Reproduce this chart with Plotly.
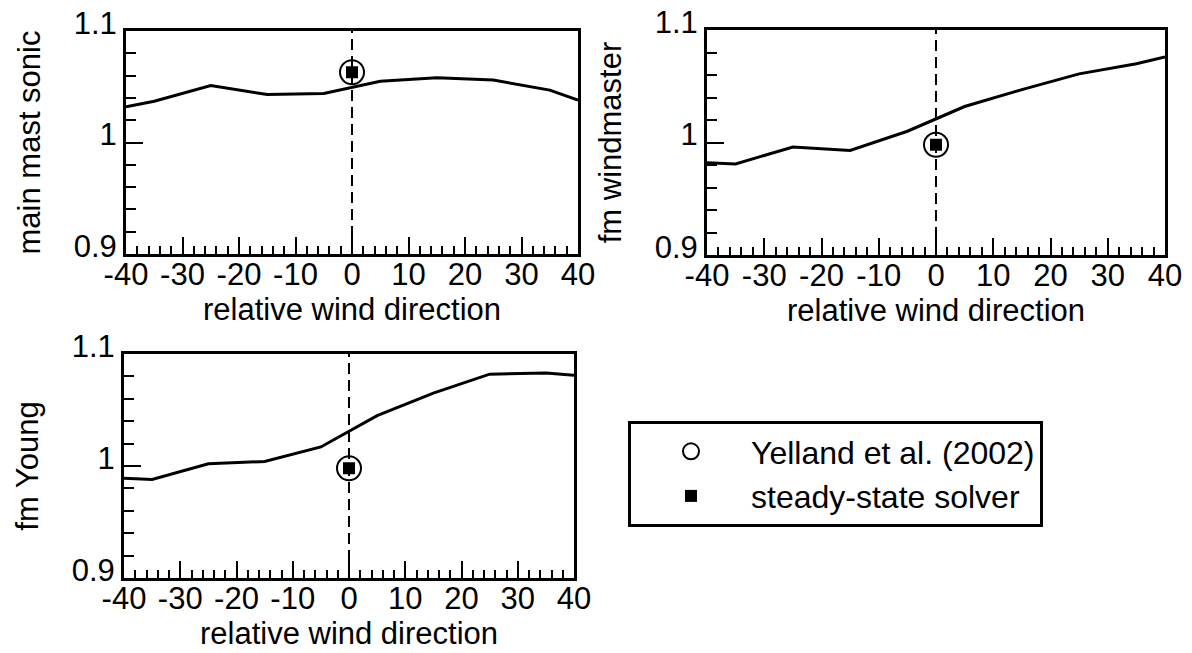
import plotly.graph_objects as go

# ---- data ----
wind_dir = [-40, -35, -25, -15, -5, 5, 15, 25, 35, 40]
main_mast_sonic = [1.032, 1.037, 1.051, 1.043, 1.044, 1.055, 1.058, 1.056, 1.047, 1.038]
fm_windmaster = [0.982, 0.981, 0.996, 0.993, 1.010, 1.032, 1.047, 1.061, 1.070, 1.076]
fm_young = [0.989, 0.988, 1.002, 1.004, 1.017, 1.045, 1.065, 1.082, 1.083, 1.081]

ref_dir = [0]
yelland_2002 = {"main mast sonic": [1.063], "fm windmaster": [0.998], "fm Young": [0.998]}
solver = {"main mast sonic": [1.063], "fm windmaster": [0.998], "fm Young": [0.998]}

x_ticks = [-40, -30, -20, -10, 0, 10, 20, 30, 40]
x_ticklabels = ["-40", "-30", "-20", "-10", "0", "10", "20", "30", "40"]
y_ticks = [0.9, 1.0, 1.1]
y_ticklabels = ["0.9", "1", "1.1"]

panels = [
    ("main mast sonic", main_mast_sonic, "x", "y"),
    ("fm windmaster", fm_windmaster, "x2", "y2"),
    ("fm Young", fm_young, "x3", "y3"),
]

W, H = 1192, 653
FONT = "Liberation Sans, Arial, Helvetica, sans-serif"
FS = 31

# pixel boxes: (left, right, top, bottom)
boxes = [(126, 578, 31, 254), (707, 1165, 30, 255), (124, 574, 354, 578)]

fig = go.Figure()
for i, (name, vals, xa, ya) in enumerate(panels):
    fig.add_trace(go.Scatter(x=wind_dir, y=vals, mode="lines", xaxis=xa, yaxis=ya,
                             line=dict(color="black", width=3), showlegend=False))
    fig.add_trace(go.Scatter(x=ref_dir, y=yelland_2002[name], mode="markers", xaxis=xa, yaxis=ya,
                             name="Yelland et al. (2002)", showlegend=(i == 0),
                             marker=dict(symbol="circle-open", size=24, color="black", line=dict(width=2)),
                             cliponaxis=False))
    fig.add_trace(go.Scatter(x=ref_dir, y=solver[name], mode="markers", xaxis=xa, yaxis=ya,
                             name="steady-state solver", showlegend=(i == 0),
                             marker=dict(symbol="square", size=12, color="black"),
                             cliponaxis=False))
    fig.add_shape(type="line", xref=xa, yref=ya, x0=ref_dir[0], x1=ref_dir[0],
                  y0=y_ticks[0], y1=y_ticks[-1], layer="below",
                  line=dict(color="black", width=2, dash="11px,6px"))

axis_common = dict(showline=True, linecolor="black", linewidth=3, mirror=True,
                   ticks="inside", tickcolor="black", tickwidth=2, showgrid=False, zeroline=False,
                   automargin=False, tickmode="array",
                   tickfont=dict(family=FONT, size=FS, color="black"))

layout = dict(width=W, height=H, margin=dict(l=0, r=0, t=0, b=0, autoexpand=False),
              template="none",
              paper_bgcolor="white", plot_bgcolor="white",
              font=dict(family=FONT, size=FS, color="black"))

for i, (name, vals, xa, ya) in enumerate(panels):
    l, r, t, b = boxes[i]
    xk = "xaxis" if i == 0 else f"xaxis{i+1}"
    yk = "yaxis" if i == 0 else f"yaxis{i+1}"
    layout[xk] = dict(axis_common, domain=[l / W, r / W], range=[-40, 40], anchor=ya,
                      tickvals=x_ticks, ticktext=x_ticklabels, ticklen=17,
                      ticklabelstandoff=-9,
                      minor=dict(dtick=2, tick0=0, ticks="inside", ticklen=8, tickwidth=2,
                                 tickcolor="black", showgrid=False),
                      title=dict(text="relative wind direction", standoff=2,
                                 font=dict(family=FONT, size=FS, color="black")))
    layout[yk] = dict(axis_common, domain=[1 - b / H, 1 - t / H], range=[0.9, 1.1], anchor=xa,
                      tickvals=y_ticks, ticktext=y_ticklabels, ticklen=17,
                      ticklabelshift=-8,
                      minor=dict(dtick=0.02, tick0=0.9, ticks="inside", ticklen=10, tickwidth=2,
                                 tickcolor="black", showgrid=False),
                      title=dict(text=name, standoff=24,
                                 font=dict(family=FONT, size=FS, color="black")))

layout["legend"] = dict(x=628 / W, y=1 - 421 / H, xanchor="left", yanchor="top",
                        bordercolor="black", borderwidth=3, bgcolor="white",
                        font=dict(family=FONT, size=32, color="black"),
                        itemwidth=110, tracegroupgap=0, itemsizing="trace")

fig.update_layout(**layout)
fig.write_html("out.html", config={"displayModeBar": False},
               post_script="document.body.style.margin='0';document.body.style.overflow='hidden';")
